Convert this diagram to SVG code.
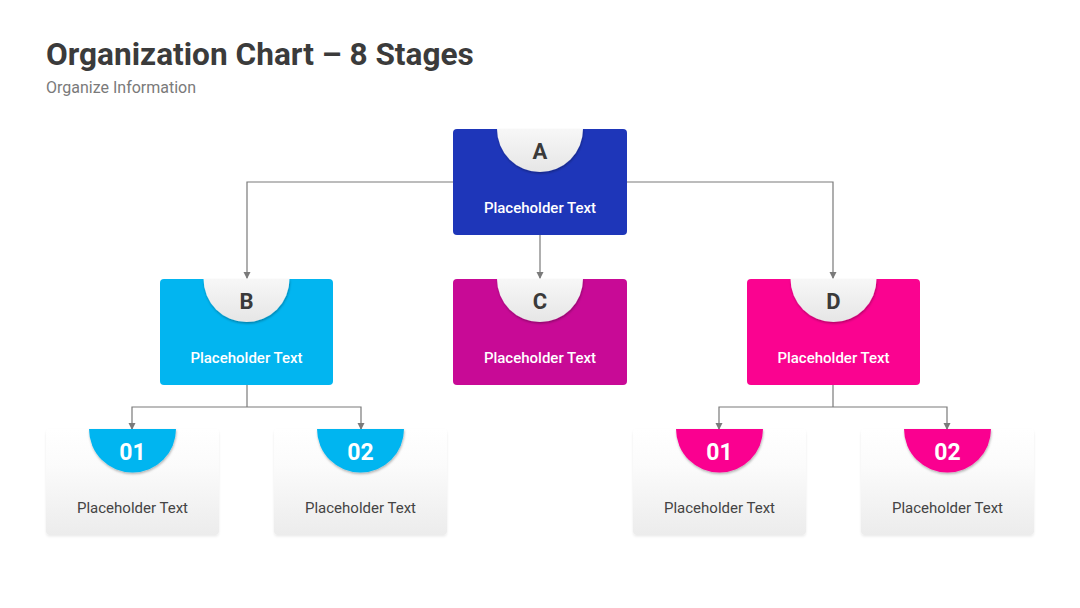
<svg xmlns="http://www.w3.org/2000/svg" width="1080" height="608" viewBox="0 0 1080 608">
<style>
.title{font-family:Roboto,"Liberation Sans",sans-serif;font-weight:700;font-size:31.6px;fill:#3b3b3b}
.sub{font-family:Roboto,"Liberation Sans",sans-serif;font-size:16px;fill:#7a7a7a}
.letter{font-family:Roboto,"Liberation Sans",sans-serif;font-weight:700;font-size:22px;fill:#3a3a3a;text-anchor:middle}
.wt{font-family:Roboto,"Liberation Sans",sans-serif;font-weight:500;font-size:15px;fill:#ffffff;text-anchor:middle}
.num{font-family:Roboto,"Liberation Sans",sans-serif;font-weight:700;font-size:23px;fill:#ffffff;text-anchor:middle}
.dt{font-family:Roboto,"Liberation Sans",sans-serif;font-size:15px;fill:#444444;text-anchor:middle}
.conn{fill:none;stroke:#7a7a7a;stroke-width:1.2}
</style>
<defs>
<linearGradient id="grey" x1="0" y1="0" x2="0" y2="1">
<stop offset="0" stop-color="#f7f7f7"/><stop offset="1" stop-color="#e6e6e6"/>
</linearGradient>
<linearGradient id="card" x1="0" y1="0" x2="0" y2="1">
<stop offset="0" stop-color="#ffffff"/><stop offset="0.35" stop-color="#fbfbfb"/><stop offset="1" stop-color="#ececec"/>
</linearGradient>
<filter id="sh" x="-20%" y="-20%" width="140%" height="150%">
<feDropShadow dx="0.5" dy="1.5" stdDeviation="1.2" flood-color="#000" flood-opacity="0.3"/>
</filter>
<filter id="csh" x="-10%" y="-10%" width="120%" height="125%">
<feDropShadow dx="0" dy="1.5" stdDeviation="1" flood-color="#000" flood-opacity="0.08"/>
</filter>
<marker id="arr" markerWidth="8" markerHeight="8" refX="6" refY="3.5" orient="auto" markerUnits="userSpaceOnUse">
<path d="M0,0 L7,3.5 L0,7 Z" fill="#7a7a7a"/>
</marker>
</defs>
<rect width="1080" height="608" fill="#ffffff"/>
<text class="title" x="46" y="65">Organization Chart – 8 Stages</text>
<text class="sub" x="46" y="93">Organize Information</text>

<g id="connectors">
<path class="conn" d="M453,182 H247 V278" marker-end="url(#arr)"/>
<path class="conn" d="M627,182 H833 V278" marker-end="url(#arr)"/>
<path class="conn" d="M540,235 V278" marker-end="url(#arr)"/>
<path class="conn" d="M247,385 V407"/>
<path class="conn" d="M247,407 H132 V429" marker-end="url(#arr)"/>
<path class="conn" d="M247,407 H361 V429" marker-end="url(#arr)"/>
<path class="conn" d="M833,385 V407"/>
<path class="conn" d="M833,407 H719 V429" marker-end="url(#arr)"/>
<path class="conn" d="M833,407 H947 V429" marker-end="url(#arr)"/>
</g>

<g id="node-A">
<rect x="453" y="129" width="174" height="106" rx="4" fill="#1e36b9"/>
<path d="M497,129 A43,43 0 0 0 583,129 Z" fill="url(#grey)" filter="url(#sh)"/>
<text class="letter" x="540" y="159">A</text>
<text class="wt" x="540" y="213">Placeholder Text</text>
</g>
<g id="node-B">
<rect x="160" y="279" width="173" height="106" rx="4" fill="#02b5f0"/>
<path d="M203.5,279 A43,43 0 0 0 289.5,279 Z" fill="url(#grey)" filter="url(#sh)"/>
<text class="letter" x="246.5" y="309">B</text>
<text class="wt" x="246.5" y="363">Placeholder Text</text>
</g>
<g id="node-C">
<rect x="453" y="279" width="174" height="106" rx="4" fill="#c80a96"/>
<path d="M497,279 A43,43 0 0 0 583,279 Z" fill="url(#grey)" filter="url(#sh)"/>
<text class="letter" x="540" y="309">C</text>
<text class="wt" x="540" y="363">Placeholder Text</text>
</g>
<g id="node-D">
<rect x="747" y="279" width="173" height="106" rx="4" fill="#fa0390"/>
<path d="M790.5,279 A43,43 0 0 0 876.5,279 Z" fill="url(#grey)" filter="url(#sh)"/>
<text class="letter" x="833.5" y="309">D</text>
<text class="wt" x="833.5" y="363">Placeholder Text</text>
</g>

<g id="node-B01">
<rect x="46" y="429" width="173" height="106" rx="4" fill="url(#card)" filter="url(#csh)"/>
<path d="M89,429 A43.5,43.5 0 0 0 176,429 Z" fill="#02b5f0" filter="url(#sh)"/>
<text class="num" x="132.5" y="460">01</text>
<text class="dt" x="132.5" y="513">Placeholder Text</text>
</g>
<g id="node-B02">
<rect x="274" y="429" width="173" height="106" rx="4" fill="url(#card)" filter="url(#csh)"/>
<path d="M317,429 A43.5,43.5 0 0 0 404,429 Z" fill="#02b5f0" filter="url(#sh)"/>
<text class="num" x="360.5" y="460">02</text>
<text class="dt" x="360.5" y="513">Placeholder Text</text>
</g>
<g id="node-D01">
<rect x="633" y="429" width="173" height="106" rx="4" fill="url(#card)" filter="url(#csh)"/>
<path d="M676,429 A43.5,43.5 0 0 0 763,429 Z" fill="#fa0390" filter="url(#sh)"/>
<text class="num" x="719.5" y="460">01</text>
<text class="dt" x="719.5" y="513">Placeholder Text</text>
</g>
<g id="node-D02">
<rect x="861" y="429" width="173" height="106" rx="4" fill="url(#card)" filter="url(#csh)"/>
<path d="M904,429 A43.5,43.5 0 0 0 991,429 Z" fill="#fa0390" filter="url(#sh)"/>
<text class="num" x="947.5" y="460">02</text>
<text class="dt" x="947.5" y="513">Placeholder Text</text>
</g>
</svg>
